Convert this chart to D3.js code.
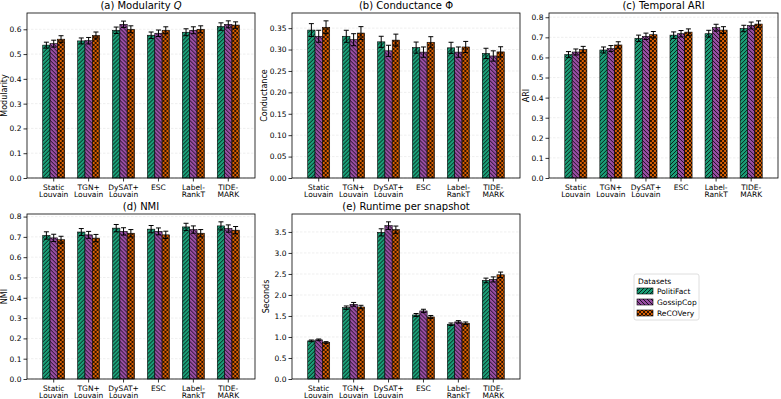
<!DOCTYPE html>
<html>
<head>
<meta charset="utf-8">
<script src="https://cdn.jsdelivr.net/npm/d3@7"></script>
<style>
  body { margin: 0; background: #fff; }
  svg text { font-family: "DejaVu Sans", sans-serif; fill: #000; }
</style>
</head>
<body>
<div id="chart"></div>
<script>
// data
var methods  = ["Static\nLouvain", "TGN+\nLouvain", "DySAT+\nLouvain", "ESC", "Label-\nRankT", "TIDE-\nMARK"];
var datasets = ["PolitiFact", "GossipCop", "ReCOVery"];

// each row = one method, columns = PolitiFact, GossipCop, ReCOVery
var modularity     = [[0.536, 0.542, 0.560], [0.553, 0.554, 0.575], [0.596, 0.620, 0.600],
                      [0.576, 0.584, 0.596], [0.588, 0.596, 0.600], [0.611, 0.620, 0.617]];
var modularityErr  = [[0.012, 0.014, 0.014], [0.012, 0.013, 0.014], [0.013, 0.013, 0.014],
                      [0.013, 0.013, 0.014], [0.014, 0.014, 0.014], [0.015, 0.014, 0.013]];

var conductance    = [[0.3455, 0.331, 0.352], [0.331, 0.323, 0.3385], [0.318, 0.297, 0.322],
                      [0.3045, 0.294, 0.317], [0.304, 0.294, 0.306], [0.291, 0.285, 0.2945]];
var conductanceErr = [[0.015, 0.014, 0.015], [0.014, 0.014, 0.015], [0.013, 0.013, 0.014],
                      [0.013, 0.012, 0.013], [0.013, 0.012, 0.013], [0.012, 0.012, 0.012]];

var ari            = [[0.614, 0.627, 0.639], [0.637, 0.644, 0.662], [0.695, 0.705, 0.713],
                      [0.711, 0.718, 0.726], [0.718, 0.748, 0.736], [0.744, 0.759, 0.766]];
var ariErr         = [[0.015, 0.015, 0.016], [0.015, 0.015, 0.016], [0.016, 0.016, 0.016],
                      [0.016, 0.016, 0.016], [0.017, 0.017, 0.017], [0.016, 0.017, 0.016]];

var nmi            = [[0.707, 0.695, 0.686], [0.724, 0.710, 0.694], [0.743, 0.727, 0.718],
                      [0.738, 0.727, 0.710], [0.749, 0.736, 0.718], [0.754, 0.741, 0.733]];
var nmiErr         = [[0.018, 0.018, 0.017], [0.017, 0.017, 0.018], [0.018, 0.018, 0.018],
                      [0.018, 0.017, 0.018], [0.018, 0.018, 0.018], [0.020, 0.018, 0.018]];

var runtime        = [[0.908, 0.932, 0.869], [1.698, 1.777, 1.714], [3.490, 3.650, 3.555],
                      [1.524, 1.620, 1.477], [1.303, 1.359, 1.327], [2.346, 2.370, 2.480]];
var runtimeErr     = [[0.020, 0.020, 0.020], [0.040, 0.045, 0.040], [0.085, 0.090, 0.085],
                      [0.035, 0.040, 0.035], [0.030, 0.030, 0.030], [0.055, 0.060, 0.065]];

var colors = ["#1b9e77", "#984ea3", "#d95f02"];

var W = 781, H = 399;
var tickFont = "7.5px";

var svg = d3.select("#chart").append("svg")
    .attr("width", W)
    .attr("height", H);

// hatch patterns: "////", "\\\\", "xx"
var defs = svg.append("defs");
function hatch(id, color, d) {
  var p = defs.append("pattern")
      .attr("id", id)
      .attr("patternUnits", "userSpaceOnUse")
      .attr("width", 4).attr("height", 4);
  p.append("rect").attr("width", 4).attr("height", 4).attr("fill", color);
  p.append("path").attr("d", d)
      .attr("stroke", "#000").attr("stroke-width", 0.8).attr("fill", "none");
}
var fwd  = "M-1,1 l2,-2 M0,4 l4,-4 M3,5 l2,-2";
var back = "M-1,3 l2,2 M0,0 l4,4 M3,-1 l2,2";
hatch("h0", colors[0], fwd);
hatch("h1", colors[1], back);
hatch("h2", colors[2], fwd + " " + back);

var panels = [
  {title: "(a) Modularity ", italic: "Q", ylab: "Modularity", v: modularity, e: modularityErr,
   step: 0.1, top: 0.6, fmt: ".1f", x0: 27, x1: 255, y0: 13, y1: 178, labx: 4.5},
  {title: "(b) Conductance Φ", ylab: "Conductance", v: conductance, e: conductanceErr,
   step: 0.05, top: 0.35, fmt: ".2f", x0: 292, x1: 520, y0: 13, y1: 178, labx: 264},
  {title: "(c) Temporal ARI", ylab: "ARI", v: ari, e: ariErr,
   step: 0.1, top: 0.8, fmt: ".1f", x0: 549, x1: 778, y0: 13, y1: 178, labx: 526},
  {title: "(d) NMI", ylab: "NMI", v: nmi, e: nmiErr,
   step: 0.1, top: 0.8, fmt: ".1f", x0: 27, x1: 255, y0: 214, y1: 379, labx: 4.5},
  {title: "(e) Runtime per snapshot", ylab: "Seconds", v: runtime, e: runtimeErr,
   step: 0.5, top: 3.5, fmt: ".1f", x0: 292, x1: 520, y0: 214, y1: 379, labx: 266}
];

panels.forEach(function(p) {
  var g = svg.append("g").attr("transform", "translate(" + p.x0 + "," + p.y0 + ")");
  var w = p.x1 - p.x0, h = p.y1 - p.y0;

  // matplotlib-style 5% headroom
  var maxv = d3.max(p.v, function(r, i) { return d3.max(r, function(d, j) { return d + p.e[i][j]; }); });
  var y = d3.scaleLinear().domain([0, maxv * 1.05]).range([h, 0]);

  var x = d3.scaleBand().domain(methods).range([0, w]).paddingInner(0.37).paddingOuter(0.45);
  var xs = d3.scaleBand().domain(datasets).range([0, x.bandwidth()]);

  var ticks = d3.range(0, p.top + p.step / 2, p.step);

  // grid
  g.append("g").selectAll("line").data(ticks).enter().append("line")
      .attr("x1", 0).attr("x2", w)
      .attr("y1", function(d) { return y(d); }).attr("y2", function(d) { return y(d); })
      .attr("stroke", "#b0b0b0").attr("stroke-opacity", 0.35)
      .attr("stroke-dasharray", "2.5,1.5").attr("stroke-width", 0.6);

  // bars
  var grp = g.append("g").selectAll("g").data(methods).enter().append("g")
      .attr("transform", function(d) { return "translate(" + x(d) + ",0)"; });

  grp.each(function(m, i) {
    var sel = d3.select(this);
    datasets.forEach(function(ds, j) {
      var val = p.v[i][j], err = p.e[i][j];
      var bx = xs(ds), bw = xs.bandwidth();
      sel.append("rect")
          .attr("x", bx).attr("width", bw)
          .attr("y", y(val)).attr("height", h - y(val))
          .attr("fill", "url(#h" + j + ")")
          .attr("stroke", "#000").attr("stroke-width", 0.6);
      var cx = bx + bw / 2;
      sel.append("line").attr("x1", cx).attr("x2", cx)
          .attr("y1", y(val - err)).attr("y2", y(val + err))
          .attr("stroke", "#000").attr("stroke-width", 1);
      [val - err, val + err].forEach(function(c) {
        sel.append("line").attr("x1", cx - 2.5).attr("x2", cx + 2.5)
            .attr("y1", y(c)).attr("y2", y(c))
            .attr("stroke", "#000").attr("stroke-width", 1);
      });
    });
  });

  // y axis
  var ya = g.append("g").call(d3.axisLeft(y).tickValues(ticks).tickFormat(d3.format(p.fmt))
      .tickSize(3.5).tickPadding(2).tickSizeOuter(0));
  ya.select(".domain").remove();
  ya.selectAll("text").style("font-size", tickFont);
  ya.selectAll("line").attr("stroke-width", 0.8);

  // x axis
  var xa = g.append("g").attr("transform", "translate(0," + h + ")")
      .call(d3.axisBottom(x).tickSize(3.5).tickSizeOuter(0).tickFormat(""));
  xa.select(".domain").remove();
  xa.selectAll("line").attr("stroke-width", 0.8);
  xa.selectAll(".tick").each(function(m) {
    var t = d3.select(this).append("text")
        .attr("text-anchor", "middle")
        .attr("y", 11.5)
        .style("font-size", tickFont);
    m.split("\n").forEach(function(s, k) {
      t.append("tspan").attr("x", 0).attr("dy", k === 0 ? 0 : 7.5).text(s);
    });
  });

  // frame
  g.append("rect").attr("width", w).attr("height", h)
      .attr("fill", "none").attr("stroke", "#000").attr("stroke-width", 0.8);

  // title
  var tt = g.append("text").attr("x", w / 2).attr("y", -4)
      .attr("text-anchor", "middle").style("font-size", "10px").text(p.title);
  if (p.italic) tt.append("tspan").style("font-style", "italic").text(p.italic);

  // y label
  svg.append("text")
      .attr("transform", "translate(" + p.labx + "," + (p.y0 + h / 2) + ") rotate(-90)")
      .attr("text-anchor", "middle").attr("dy", "0.35em")
      .style("font-size", "8px").text(p.ylab);
});

// legend
var lg = svg.append("g").attr("transform", "translate(634,274)");
lg.append("rect").attr("width", 65).attr("height", 46).attr("rx", 2)
    .attr("fill", "#fff").attr("stroke", "#d6d6d6").attr("stroke-width", 0.8);
lg.append("text").attr("x", 4).attr("y", 9.5).style("font-size", "7.5px").text("Datasets");
datasets.forEach(function(ds, j) {
  var yy = 17 + j * 11;
  lg.append("rect").attr("x", 3).attr("y", yy - 3).attr("width", 16).attr("height", 6)
      .attr("fill", "url(#h" + j + ")").attr("stroke", "#000").attr("stroke-width", 0.6);
  lg.append("text").attr("x", 23).attr("y", yy).attr("dy", "0.35em")
      .style("font-size", "7.5px").text(ds);
});
</script>
</body>
</html>
